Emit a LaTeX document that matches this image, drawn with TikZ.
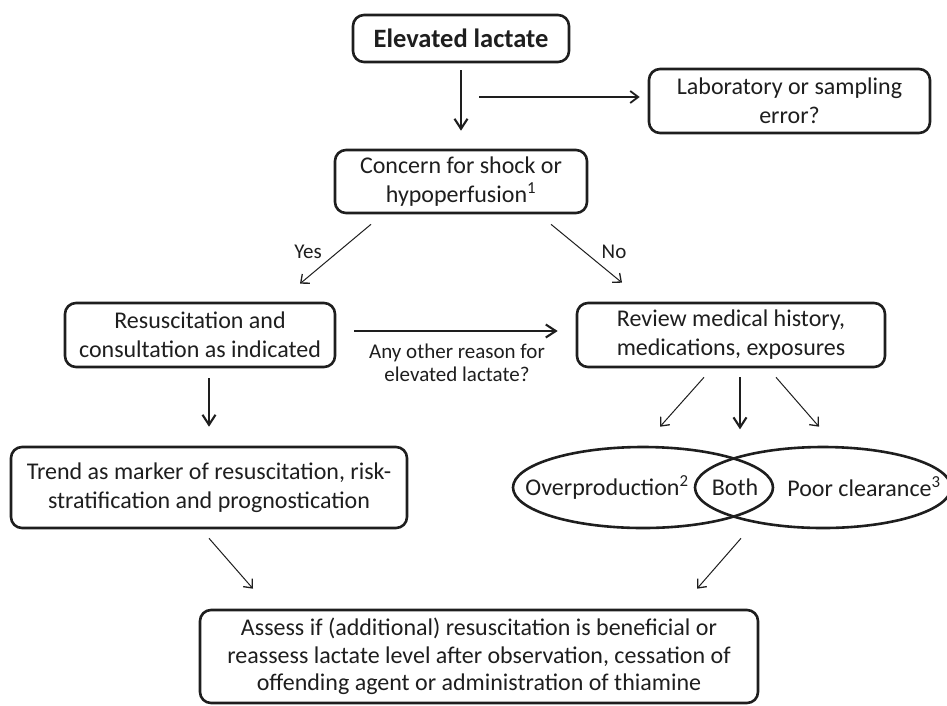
\documentclass[tikz,border=0pt]{standalone}
\usepackage{fontspec}
\setmainfont{Carlito}
\usetikzlibrary{arrows.meta,shapes.geometric,calc}
\definecolor{ink}{RGB}{30,30,30}
\begin{document}
\begin{tikzpicture}[x=1pt,y=-1pt,
  box/.style={draw=ink, line width=2.6pt, rounded corners=11pt, inner sep=0pt, align=center, text=ink, font=\fontsize{24}{29}\selectfont},
  lbl/.style={text=ink, inner sep=0pt, align=center, font=\fontsize{21}{23}\selectfont},
  txt/.style={text=ink, inner sep=0pt, font=\fontsize{24}{29}\selectfont},
  thinarr/.style={draw=ink, line width=1pt, -{Straight Barb[length=7pt,width=12pt,line width=1.3pt]}},
  midarr/.style={draw=ink, line width=1.4pt, -{Straight Barb[length=8pt,width=12pt,line width=1.8pt]}},
  thickarr/.style={draw=ink, line width=2.1pt, -{Straight Barb[length=10pt,width=13pt]}},
  ell/.style={draw=ink, line width=2.6pt, ellipse, inner sep=0pt}
]
\useasboundingbox (0,0) rectangle (947,705);

% boxes
\node[box, minimum width=216pt, minimum height=47pt, font=\fontsize{26.5}{30}\selectfont\bfseries] (elev) at (461,38.5) {Elevated lactate};
\node[box, minimum width=281pt, minimum height=64pt] (lab) at (789.5,101) {Laboratory or sampling\\error?};
\node[box, minimum width=252pt, minimum height=63pt] (concern) at (461,181.5) {Concern for shock or\\hypoperfusion\textsuperscript{1}};
\node[box, minimum width=270pt, minimum height=64pt] (resus) at (200,335) {Resuscitation and\\consultation as indicated};
\node[box, minimum width=308pt, minimum height=64pt] (review) at (731,335) {Review medical history,\\medications, exposures};
\node[box, minimum width=396pt, minimum height=81pt] (trend) at (209,487.5) {Trend as marker of resuscitation, risk-\\stratification and prognostication};
\node[box, minimum width=558pt, minimum height=93pt, font=\fontsize{24}{27.5}\selectfont] (final) at (479,656.5) {Assess if (additional) resuscitation is beneficial or\\reassess lactate level after observation, cessation of\\offending agent or administration of thiamine};

% ellipses
\node[ell, minimum width=260pt, minimum height=81pt] (over) at (643,487.5) {};
\node[ell, minimum width=256pt, minimum height=81pt] (poor) at (823,487.5) {};
\node[txt] (overt) at (607,487) {Overproduction\textsuperscript{2}};
\node[txt] (both) at (735,487) {Both};
\node[txt] (poort) at (864,487) {Poor clearance\textsuperscript{3}};

% labels
\node[lbl] (yes) at (308,252) {Yes};
\node[lbl] (no) at (614,252) {No};
\node[lbl] (other) at (457,363) {Any other reason for\\elevated lactate?};

% connectors
\coordinate (labsrc) at (479,97);
\draw[thickarr] ([yshift=-7pt]elev.south) -- ([yshift=18pt]concern.north);
\draw[midarr] (labsrc) -- ([xshift=-8pt]lab.west |- labsrc);
\draw[thinarr] ([xshift=-90pt,yshift=-10pt]concern.south) -- ([xshift=100pt,yshift=18pt]resus.north);
\draw[thinarr] ([xshift=90pt,yshift=-10pt]concern.south) -- ([xshift=-109pt,yshift=19pt]review.north);
\draw[thickarr] ([xshift=18pt,yshift=4pt]resus.east) -- ([xshift=-18pt,yshift=4pt]review.west);
\draw[thickarr] ([yshift=-10pt]resus.south -| trend.north) -- ([yshift=19pt]trend.north);
\draw[thinarr] ([xshift=-27pt,yshift=-9pt]review.south) -- ([xshift=17pt,yshift=19pt]over.north);
\draw[thickarr] ([xshift=9pt,yshift=-9pt]review.south) -- ([xshift=9pt,yshift=-61pt]review.south);
\draw[thinarr] ([xshift=45pt,yshift=-9pt]review.south) -- ([xshift=-4pt,yshift=19pt]poor.north);
\draw[thinarr] ([yshift=-9pt]trend.south) -- ([xshift=-226pt,yshift=20pt]final.north);
\draw[thinarr] ([xshift=-82pt,yshift=-9pt]poor.south) -- ([xshift=218pt,yshift=20pt]final.north);
\end{tikzpicture}
\end{document}
